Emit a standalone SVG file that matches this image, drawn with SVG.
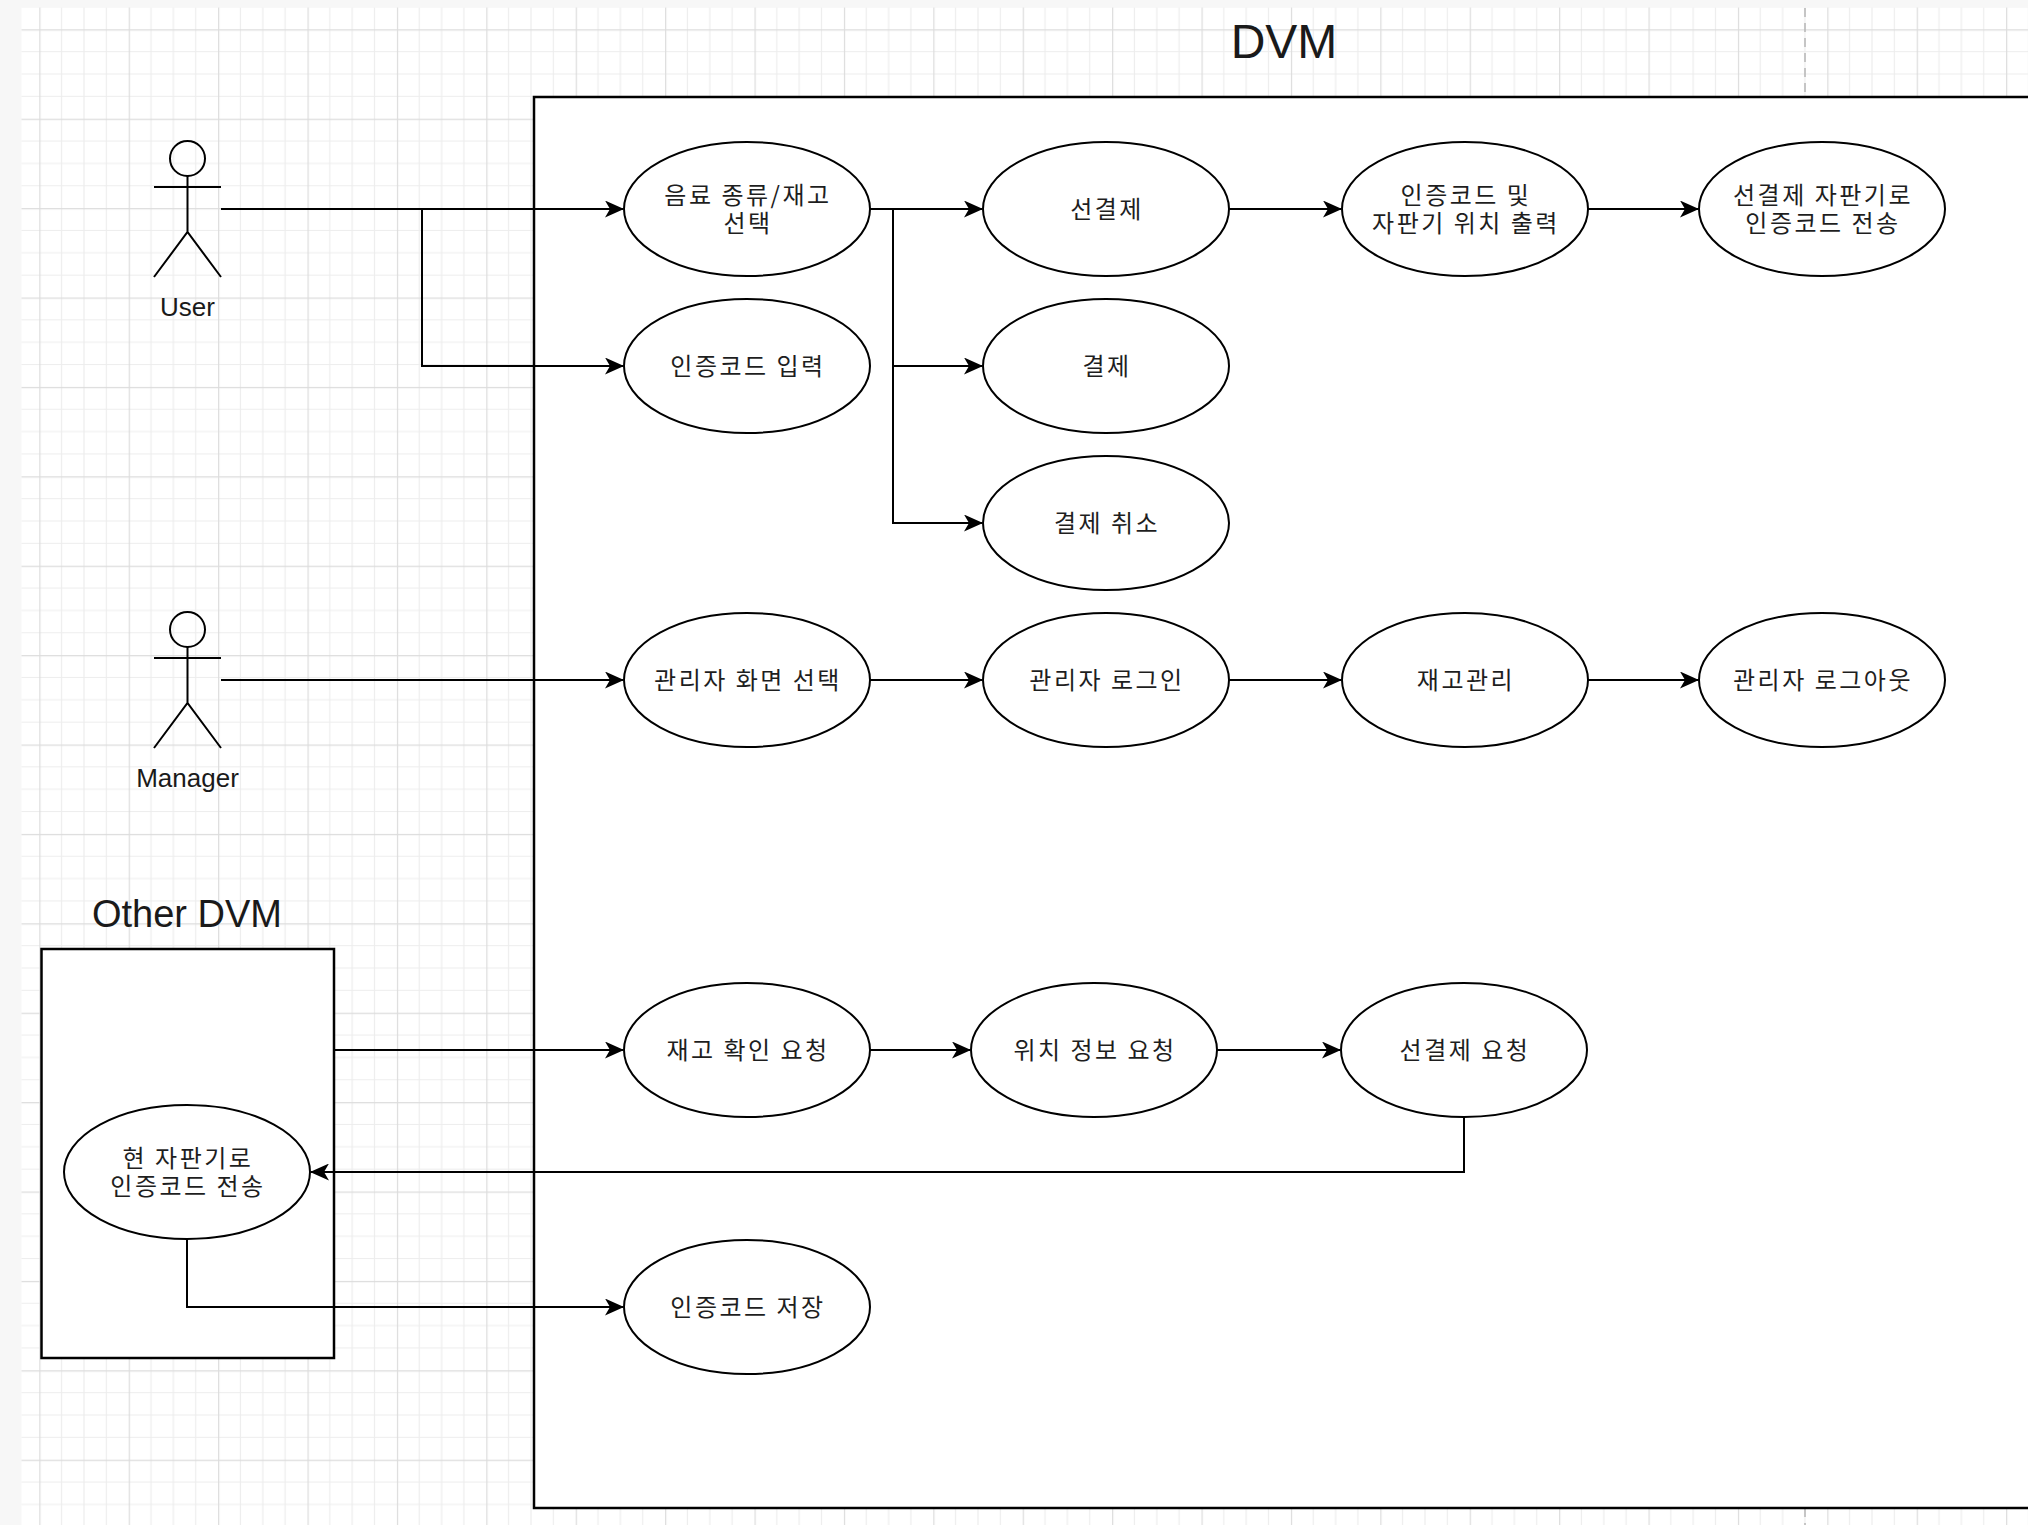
<svg xmlns="http://www.w3.org/2000/svg" width="2028" height="1525" viewBox="0 0 2028 1525">
<style>
.uc{fill:#ffffff;stroke:#000000;stroke-width:2}
.kt{font-family:"Noto Sans CJK KR","Noto Sans",sans-serif;font-size:24px;fill:#1e1e1e;text-anchor:middle;dominant-baseline:central;letter-spacing:2.5px}
.lt{font-family:"Liberation Sans",Arial,sans-serif;fill:#1a1a1a;text-anchor:middle}
.actor{fill:none;stroke:#000000;stroke-width:2}
.conn path{fill:none;stroke:#000000;stroke-width:2;marker-end:url(#arrow)}
.box{fill:#ffffff;stroke:#000000;stroke-width:2.5}
</style>
<defs>
<pattern id="grid" patternUnits="userSpaceOnUse" x="39.3" y="29.3" width="89.4" height="89.4">
<path d="M22.35,0V89.4M44.7,0V89.4M67.05,0V89.4M0,22.35H89.4M0,44.7H89.4M0,67.05H89.4" stroke="#ededed" stroke-width="1.2" fill="none"/>
<path d="M0.5,0V89.4M0,0.5H89.4" stroke="#dcdcdc" stroke-width="1.4" fill="none"/>
</pattern>
<marker id="arrow" markerUnits="userSpaceOnUse" viewBox="0 0 19 17" refX="18" refY="8.5" markerWidth="19" markerHeight="17" orient="auto">
<path d="M0,0 L19,8.5 L0,17 L5,8.5 Z" fill="#000000"/>
</marker>
</defs>
<rect x="0" y="0" width="2028" height="1525" fill="#f7f7f7"/>
<rect x="21.5" y="7.5" width="2006.5" height="1517.5" fill="#ffffff"/>
<rect x="21.5" y="7.5" width="2006.5" height="1517.5" fill="url(#grid)"/>
<line x1="1805" y1="8" x2="1805" y2="1525" stroke="#b5b5b5" stroke-width="1.5" stroke-dasharray="9 6"/>

<g id="dvm-system">
<rect class="box" x="534" y="97" width="1600" height="1411"/>
<text class="lt" x="1284" y="58" font-size="48">DVM</text>
</g>

<g id="other-dvm">
<rect class="box" x="41.5" y="949" width="292.5" height="409"/>
<text class="lt" x="187" y="927" font-size="38">Other DVM</text>
</g>

<g id="actor-user">
<circle class="actor" cx="187.5" cy="158.5" r="17.5"/>
<path class="actor" d="M154,187H221M187.5,176V232M154,277L187.5,232L221,277"/>
<text class="lt" x="187.5" y="316" font-size="26">User</text>
</g>

<g id="actor-manager">
<circle class="actor" cx="187.5" cy="629.5" r="17.5"/>
<path class="actor" d="M154,658H221M187.5,647V703M154,748L187.5,703L221,748"/>
<text class="lt" x="187.5" y="787" font-size="26">Manager</text>
</g>

<g id="uc-select">
<ellipse class="uc" cx="747" cy="209" rx="123" ry="67"/>
<text class="kt"><tspan x="748" y="193">음료 종류/재고</tspan><tspan x="748" y="221">선택</tspan></text>
</g>
<g id="uc-prepay">
<ellipse class="uc" cx="1106" cy="209" rx="123" ry="67"/>
<text class="kt" x="1107" y="207">선결제</text>
</g>
<g id="uc-print-code">
<ellipse class="uc" cx="1465" cy="209" rx="123" ry="67"/>
<text class="kt"><tspan x="1466" y="193">인증코드 및</tspan><tspan x="1466" y="221">자판기 위치 출력</tspan></text>
</g>
<g id="uc-send-code">
<ellipse class="uc" cx="1822" cy="209" rx="123" ry="67"/>
<text class="kt"><tspan x="1823" y="193">선결제 자판기로</tspan><tspan x="1823" y="221">인증코드 전송</tspan></text>
</g>
<g id="uc-input-code">
<ellipse class="uc" cx="747" cy="366" rx="123" ry="67"/>
<text class="kt" x="748" y="364">인증코드 입력</text>
</g>
<g id="uc-pay">
<ellipse class="uc" cx="1106" cy="366" rx="123" ry="67"/>
<text class="kt" x="1107" y="364">결제</text>
</g>
<g id="uc-cancel">
<ellipse class="uc" cx="1106" cy="523" rx="123" ry="67"/>
<text class="kt" x="1107" y="521">결제 취소</text>
</g>
<g id="uc-admin-screen">
<ellipse class="uc" cx="747" cy="680" rx="123" ry="67"/>
<text class="kt" x="748" y="678">관리자 화면 선택</text>
</g>
<g id="uc-admin-login">
<ellipse class="uc" cx="1106" cy="680" rx="123" ry="67"/>
<text class="kt" x="1107" y="678">관리자 로그인</text>
</g>
<g id="uc-stock">
<ellipse class="uc" cx="1465" cy="680" rx="123" ry="67"/>
<text class="kt" x="1466" y="678">재고관리</text>
</g>
<g id="uc-admin-logout">
<ellipse class="uc" cx="1822" cy="680" rx="123" ry="67"/>
<text class="kt" x="1823" y="678">관리자 로그아웃</text>
</g>
<g id="uc-stock-req">
<ellipse class="uc" cx="747" cy="1050" rx="123" ry="67"/>
<text class="kt" x="748" y="1048">재고 확인 요청</text>
</g>
<g id="uc-location-req">
<ellipse class="uc" cx="1094" cy="1050" rx="123" ry="67"/>
<text class="kt" x="1095" y="1048">위치 정보 요청</text>
</g>
<g id="uc-prepay-req">
<ellipse class="uc" cx="1464" cy="1050" rx="123" ry="67"/>
<text class="kt" x="1465" y="1048">선결제 요청</text>
</g>
<g id="uc-save-code">
<ellipse class="uc" cx="747" cy="1307" rx="123" ry="67"/>
<text class="kt" x="748" y="1305">인증코드 저장</text>
</g>
<g id="uc-current-send">
<ellipse class="uc" cx="187" cy="1172" rx="123" ry="67"/>
<text class="kt"><tspan x="188" y="1156">현 자판기로</tspan><tspan x="188" y="1184">인증코드 전송</tspan></text>
</g>

<g id="connectors" class="conn">
<path d="M221,209H623"/>
<path d="M422,209V366H623"/>
<path d="M870,209H982"/>
<path d="M893,209V366H982"/>
<path d="M893,209V523H982"/>
<path d="M1229,209H1341"/>
<path d="M1588,209H1698"/>
<path d="M221,680H623"/>
<path d="M870,680H982"/>
<path d="M1229,680H1341"/>
<path d="M1588,680H1698"/>
<path d="M334,1050H623"/>
<path d="M870,1050H970"/>
<path d="M1217,1050H1340"/>
<path d="M1464,1117V1172H311"/>
<path d="M187,1239V1307H623"/>
</g>
</svg>
